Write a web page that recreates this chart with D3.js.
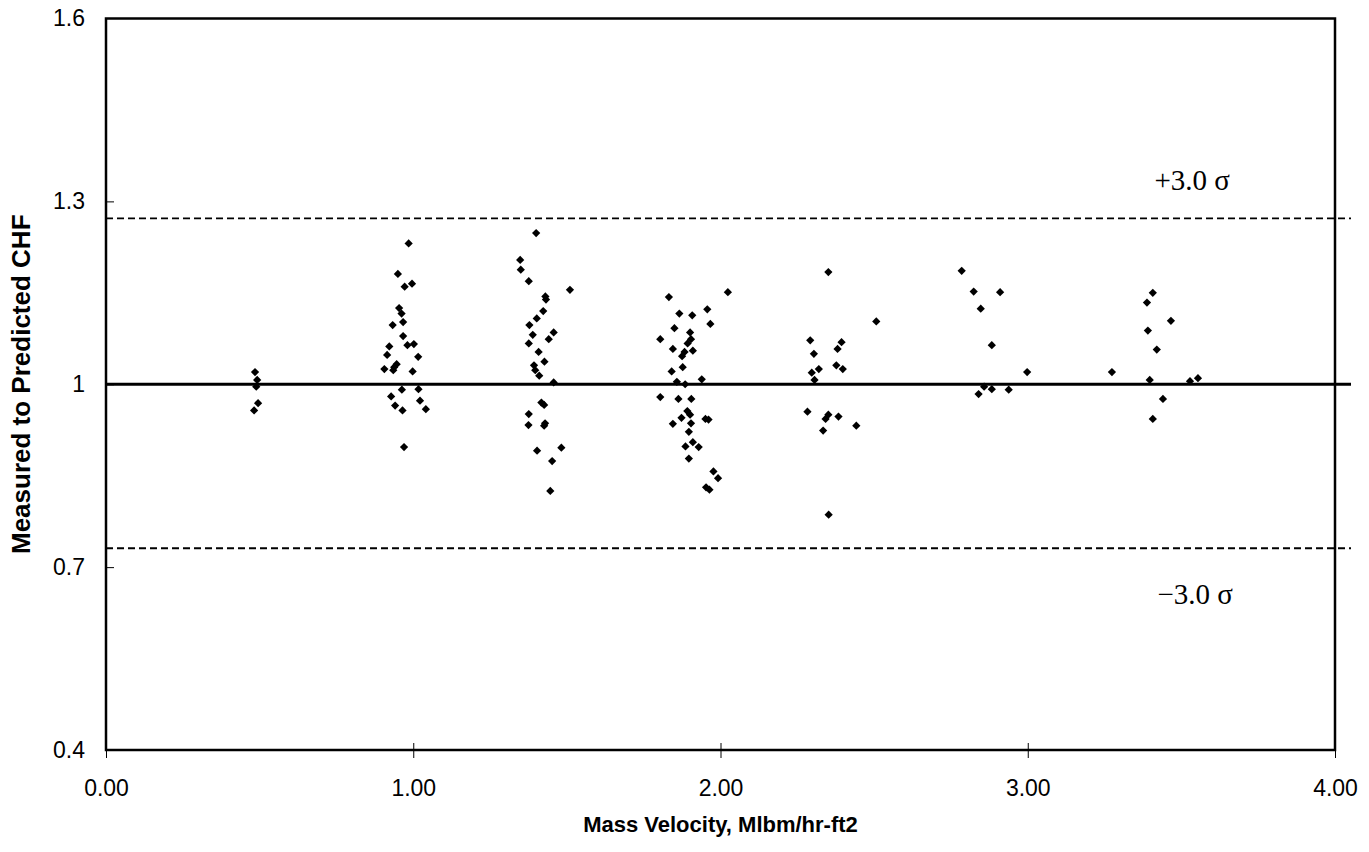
<!DOCTYPE html>
<html>
<head>
<meta charset="utf-8">
<script src="https://cdn.jsdelivr.net/npm/d3@7"></script>
<style>
  body { margin: 0; background: #fff; }
  svg { display: block; }
</style>
</head>
<body>
<div id="chart"></div>
<script>
// axis ticks
const xTicks = [0, 1, 2, 3, 4];
const yTicks = [0.4, 0.7, 1.0, 1.3, 1.6];
const yTickLabels = ["0.4", "0.7", "1", "1.3", "1.6"];

// reference lines
const meanRatio = 1.0;
const upperLimit = 1.272;
const lowerLimit = 0.731;
const limitLabels = ["+3.0 \u03c3", "\u22123.0 \u03c3"];

// measured points, Mlbm/hr-ft2 vs measured/predicted CHF
const massVelocity = [
  0.485, 0.492, 0.489, 0.495, 0.482,
  0.985, 0.950, 0.972, 0.996, 0.954, 0.962, 0.933, 0.967, 0.967, 0.981, 1.002, 0.922, 0.915, 1.016,
  0.906, 0.935, 0.946, 0.938, 0.998, 0.963, 1.017, 0.928, 0.941, 0.965, 1.022, 1.041, 0.970,
  1.400, 1.348, 1.350, 1.376, 1.510, 1.430, 1.432, 1.423, 1.402, 1.378, 1.389, 1.457, 1.441, 1.376,
  1.408, 1.427, 1.393, 1.397, 1.410, 1.457, 1.417, 1.426, 1.376, 1.375, 1.429, 1.426, 1.403, 1.482,
  1.452, 1.446,
  1.832, 2.024, 1.866, 1.908, 1.957, 1.850, 1.967, 1.901, 1.804, 1.904, 1.893, 1.845, 1.910, 1.883,
  1.875, 1.877, 1.841, 1.939, 1.858, 1.885, 1.804, 1.863, 1.905, 1.892, 1.901, 1.873, 1.961, 1.951,
  1.845, 1.904, 1.897, 1.910, 1.886, 1.929, 1.897, 1.977, 1.992, 1.953, 1.964,
  2.351, 2.507, 2.292, 2.394, 2.381, 2.304, 2.377, 2.398, 2.320, 2.297, 2.306, 2.283, 2.351, 2.342,
  2.384, 2.442, 2.334, 2.352,
  2.785, 2.824, 2.910, 2.847, 2.883, 2.998, 2.858, 2.883, 2.840, 2.938,
  3.407, 3.388, 3.391, 3.466, 3.420, 3.274, 3.397, 3.440, 3.407, 3.528, 3.554
];

const chfRatio = [
  1.020, 1.007, 0.996, 0.969, 0.957,
  1.231, 1.181, 1.160, 1.165, 1.125, 1.116, 1.097, 1.102, 1.079, 1.064, 1.066, 1.062, 1.048, 1.045,
  1.025, 1.023, 1.033, 1.028, 1.021, 0.991, 0.992, 0.980, 0.965, 0.957, 0.973, 0.959, 0.897,
  1.248, 1.204, 1.188, 1.169, 1.155, 1.144, 1.139, 1.120, 1.108, 1.097, 1.081, 1.085, 1.074, 1.067,
  1.053, 1.037, 1.031, 1.023, 1.014, 1.003, 0.970, 0.966, 0.951, 0.933, 0.936, 0.932, 0.891, 0.896,
  0.874, 0.825,
  1.143, 1.151, 1.116, 1.113, 1.123, 1.092, 1.099, 1.085, 1.074, 1.074, 1.067, 1.058, 1.055, 1.053,
  1.046, 1.028, 1.021, 1.008, 1.004, 1.000, 0.979, 0.976, 0.976, 0.956, 0.950, 0.945, 0.942, 0.943,
  0.935, 0.936, 0.922, 0.905, 0.898, 0.897, 0.878, 0.857, 0.846, 0.831, 0.827,
  1.184, 1.103, 1.072, 1.069, 1.058, 1.050, 1.031, 1.025, 1.025, 1.019, 1.007, 0.955, 0.950, 0.943,
  0.947, 0.932, 0.924, 0.786,
  1.186, 1.152, 1.151, 1.124, 1.064, 1.020, 0.996, 0.992, 0.984, 0.991,
  1.150, 1.134, 1.088, 1.104, 1.057, 1.020, 1.007, 0.976, 0.943, 1.005, 1.010
];

const width = 1369;
const height = 852;
const margin = { top: 18.5, right: 34, bottom: 102, left: 106 };
const plotWidth = width - margin.left - margin.right;
const plotHeight = height - margin.top - margin.bottom;

const svg = d3.select("#chart").append("svg")
  .attr("width", width)
  .attr("height", height);

const g = svg.append("g")
  .attr("transform", `translate(${margin.left}, ${margin.top})`);

const x = d3.scaleLinear().domain([0, 4]).range([0, plotWidth]);
const y = d3.scaleLinear().domain([0.4, 1.6]).range([plotHeight, 0]);

const overhang = 16;

// limit and mean lines
[upperLimit, lowerLimit].forEach(v => {
  g.append("line")
    .attr("x1", x(0)).attr("x2", x(4) + overhang)
    .attr("y1", y(v)).attr("y2", y(v))
    .attr("stroke", "#000")
    .attr("stroke-width", 1.8)
    .attr("stroke-dasharray", "7,4");
});

g.append("line")
  .attr("x1", x(0)).attr("x2", x(4) + overhang)
  .attr("y1", y(meanRatio)).attr("y2", y(meanRatio))
  .attr("stroke", "#000")
  .attr("stroke-width", 3.2);

// frame
g.append("rect")
  .attr("x", 0).attr("y", 0)
  .attr("width", plotWidth).attr("height", plotHeight)
  .attr("fill", "none")
  .attr("stroke", "#000")
  .attr("stroke-width", 2.5);

// axes
const xAxis = g.append("g")
  .attr("transform", `translate(0, ${plotHeight})`)
  .call(d3.axisBottom(x).tickValues(xTicks).tickFormat(d3.format(".2f")).tickSize(8).tickPadding(22));
xAxis.select(".domain").remove();
xAxis.selectAll(".tick line").attr("y1", d => (d === 0 || d === 4) ? 0 : -7).attr("stroke-width", 1);

const yAxis = g.append("g")
  .call(d3.axisLeft(y).tickValues(yTicks).tickFormat((d, i) => yTickLabels[i]).tickSize(-8).tickPadding(21));
yAxis.select(".domain").remove();
yAxis.selectAll(".tick line").attr("stroke-width", 1)
  .attr("display", d => (d === 0.4 || d === 1.6) ? "none" : null);

svg.selectAll(".tick text")
  .attr("font-family", "Liberation Sans, Arial, sans-serif")
  .attr("font-size", 23)
  .attr("fill", "#000");

// points
const points = massVelocity.map((v, i) => ({ v, r: chfRatio[i] }));
g.selectAll("path.pt")
  .data(points)
  .join("path")
  .attr("class", "pt")
  .attr("d", d3.symbol(d3.symbolSquare, 34))
  .attr("transform", d => `translate(${x(d.v)}, ${y(d.r)}) rotate(45)`)
  .attr("fill", "#000");

// limit labels
g.append("text")
  .attr("x", x(3.535)).attr("y", y(upperLimit) - 28)
  .attr("text-anchor", "middle")
  .attr("font-family", "Liberation Serif, Times New Roman, serif")
  .attr("font-size", 29)
  .text(limitLabels[0]);

g.append("text")
  .attr("x", x(3.545)).attr("y", y(lowerLimit) + 56)
  .attr("text-anchor", "middle")
  .attr("font-family", "Liberation Serif, Times New Roman, serif")
  .attr("font-size", 29)
  .text(limitLabels[1]);

// axis titles
svg.append("text")
  .attr("x", margin.left + plotWidth / 2)
  .attr("y", 832)
  .attr("text-anchor", "middle")
  .attr("font-family", "Liberation Sans, Arial, sans-serif")
  .attr("font-weight", "bold")
  .attr("font-size", 22)
  .text("Mass Velocity, Mlbm/hr-ft2");

svg.append("text")
  .attr("transform", `translate(30, ${margin.top + y(1.0)}) rotate(-90)`)
  .attr("text-anchor", "middle")
  .attr("font-family", "Liberation Sans, Arial, sans-serif")
  .attr("font-weight", "bold")
  .attr("font-size", 26)
  .text("Measured to Predicted CHF");
</script>
</body>
</html>
